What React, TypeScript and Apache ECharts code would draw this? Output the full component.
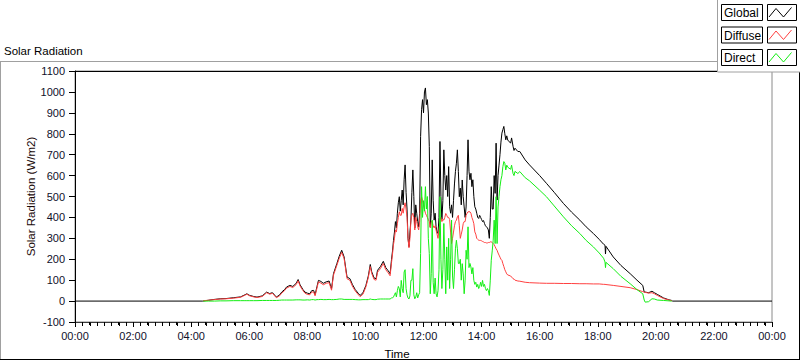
import React, { useEffect, useRef } from "react";
import * as echarts from "echarts";

// time of day in minutes since midnight
const times = [
  0, 264, 265, 276, 288, 300, 312, 327, 342, 351,
  355, 360, 369, 376, 387, 396, 402, 408, 416, 423,
  427, 433, 437, 444, 450, 457, 461, 465, 471, 475,
  480, 485, 489, 493, 496, 500, 503, 508, 513, 519,
  525, 530, 534, 541, 546, 551, 556, 562, 568, 573,
  579, 586, 589, 595, 601, 606, 610, 613, 618, 622,
  625, 631, 637, 642, 647, 651,
  654, 656, 658, 660, 662, 664, 666, 668, 670, 672,
  674, 676, 678, 680, 682, 684, 686, 688, 690, 692,
  694, 696, 698, 700, 702, 704, 706, 708, 710, 712,
  714, 716, 718, 720, 722, 724, 726, 728, 730, 732,
  734, 736, 738, 740, 742, 744, 746, 748, 750, 752,
  754, 756, 758, 760, 762, 764, 766, 768, 770, 772,
  774, 776, 778, 780, 782, 784, 786, 788, 790, 792,
  794, 796, 798, 800, 802, 804, 806, 808, 810, 812,
  814, 816, 818, 820, 822, 824, 826, 828, 830, 832,
  834, 836, 838, 840, 842, 844, 846, 848, 850, 852,
  854, 856, 858, 860, 862, 864, 866, 868, 870, 872,
  874, 876, 878, 880, 882, 884, 886, 888, 890, 892, 894,
  900, 902, 905, 907, 909, 915, 919, 930, 939, 960,
  974, 990, 1009, 1026, 1043, 1056, 1071, 1083, 1092, 1095,
  1096, 1097, 1112, 1128, 1147, 1161, 1173, 1176, 1178, 1185,
  1192, 1197, 1203, 1216, 1227, 1233, 1234, 1440,
];

const globalValues = [
  0, 0, 2, 4, 8, 11, 12, 16, 20, 30,
  35, 28, 22, 19, 25, 43, 36, 40, 19, 30,
  43, 55, 67, 75, 70, 85, 103, 78, 55, 43,
  38, 35, 50, 51, 30, 70, 99, 94, 85, 92,
  96, 59, 131, 179, 215, 243, 211, 115, 107, 80,
  55, 35, 27, 40, 75, 120, 175, 140, 110, 107,
  147, 165, 190, 160, 145, 131,
  200, 240, 290, 330, 380, 350, 420, 470, 499, 430,
  480, 531, 460, 580, 651, 520, 440, 300, 260, 330,
  387, 520, 627, 500, 350, 460, 420, 380, 355, 420,
  787, 915, 963, 900, 1000, 1019, 939, 963, 899, 739,
  355, 420, 675, 480, 387, 420, 355, 330, 323, 400,
  763, 500, 390, 480, 723, 600, 531, 600, 500, 643,
  451, 420, 460, 400, 480, 560, 620, 659, 723, 620,
  499, 540, 460, 579, 500, 450, 400, 450, 600, 771,
  620, 580, 611, 547, 580, 500, 451, 440, 420, 400,
  395, 410, 400, 390, 380, 385, 371, 360, 355, 350,
  340, 300, 400, 547, 440, 440, 600, 515, 755, 483,
  600, 650, 700, 760, 803, 820, 835, 800, 771, 790, 770,
  755, 780, 740, 720, 731, 715, 715, 675, 651, 600,
  563, 520, 467, 425, 387, 355, 323, 295, 272, 267,
  225, 262, 211, 170, 131, 100, 75, 43, 43, 40,
  47, 40, 32, 15, 6, 3, 0, 0,
];

const diffuseValues = [
  null, null, 2, 4, 7, 10, 11, 14, 18, 28,
  33, 26, 20, 17, 22, 40, 33, 37, 16, 26,
  38, 50, 62, 70, 65, 79, 97, 72, 50, 38,
  32, 30, 43, 44, 25, 63, 92, 86, 78, 85,
  88, 52, 124, 171, 205, 233, 203, 107, 99, 72,
  48, 29, 21, 33, 68, 113, 165, 132, 103, 100,
  138, 155, 180, 150, 135, 121,
  185, 225, 270, 300, 340, 330, 370, 400, 427, 410,
  410, 443, 420, 450, 470, 440, 400, 300, 255, 300,
  387, 411, 420, 400, 340, 400, 380, 355, 340, 380,
  483, 499, 480, 460, 440, 420, 410, 400, 390, 380,
  350, 380, 380, 360, 350, 360, 339, 320, 300, 340,
  390, 400, 380, 390, 387, 400, 419, 410, 400, 400,
  390, 330, 275, 300, 330, 360, 380, 387, 403, 410,
  360, 300, 320, 340, 370, 380, 380, 410, 420, 427,
  427, 427, 420, 400, 387, 370, 331, 320, 300, 295,
  291, 290, 290, 288, 285, 283, 280, 280, 278, 278,
  280, 280, 283, 283, 280, 275, 270, 260, 250, 243,
  230, 220, 210, 200, 195, 179, 165, 150, 140, 130, 125,
  120, 115, 107, 105, 100, 96, 95, 90, 88, 86,
  85, 85, 84, 84, 83, 83, 82, 82, 80, 80,
  80, 79, 75, 70, 64, 55, 45, 43, 42, 38,
  40, 35, 27, 12, 5, 2, null, null,
];

const directValues = [
  null, null, 0, 0, 0, 1, 1, 2, 2, 2,
  2, 2, 2, 2, 3, 3, 3, 3, 3, 4,
  5, 5, 5, 5, 5, 6, 6, 6, 5, 5,
  6, 5, 7, 7, 5, 7, 7, 8, 7, 7,
  8, 7, 7, 8, 10, 10, 8, 8, 8, 8,
  7, 6, 6, 7, 7, 7, 10, 8, 7, 7,
  9, 10, 10, 10, 10, 10,
  15, 15, 20, 30, 40, 20, 50, 70, 60, 20,
  99, 60, 40, 139, 150, 60, 30, 15, 10, 25,
  99, 100, 155, 30, 11, 19, 40, 15, 30, 40,
  227, 547, 400, 480, 430, 547, 440, 500, 300, 227,
  35, 131, 387, 90, 35, 110, 35, 20, 50, 150,
  499, 200, 60, 150, 371, 200, 35, 259, 100, 300,
  60, 200, 387, 120, 60, 150, 250, 291, 250, 180,
  179, 200, 100, 179, 130, 35, 100, 243, 200, 355,
  160, 180, 163, 130, 160, 99, 80, 90, 67, 80,
  60, 70, 90, 70, 99, 70, 80, 60, 50, 60,
  50, 27, 100, 195, 240, 291, 387, 275, 499, 275,
  450, 500, 547, 580, 600, 643, 667, 659, 627, 650, 640,
  630, 650, 610, 600, 620, 610, 619, 590, 575, 530,
  499, 455, 403, 360, 323, 290, 259, 230, 205, 187,
  160, 185, 155, 118, 83, 55, 35, 5, -5, -3,
  11, 10, 5, 3, 1, 0, null, null,
];

const seriesNames = ["Global", "Diffuse", "Direct"];
const seriesColors = ["#000000", "#ff4040", "#14ee14"];
const seriesValues = [globalValues, diffuseValues, directValues];

const xMin = 0;
const xMax = 1440;
const xStep = 120;
const xMinorStep = 15;
const yMin = -100;
const yMax = 1100;
const yStep = 100;

function pairs(vals: (number | null)[]) {
  const out: [number, number][] = [];
  const n = Math.min(times.length, vals.length);
  for (let i = 0; i < n; i++) {
    const v = vals[i];
    if (v !== null && v !== undefined) out.push([times[i], v]);
  }
  return out;
}

function fmtTime(v: number) {
  const h = Math.round(v / 60) % 24;
  return (h < 10 ? "0" : "") + h + ":00";
}

export default function App() {
  const ref = useRef<HTMLDivElement>(null);

  useEffect(() => {
    if (!ref.current) return;
    const chart = echarts.init(ref.current, null, { renderer: "svg" });
    const font = "'Liberation Sans', Arial, sans-serif";
    const gridLeft = 75;
    const gridRight = 772;
    const gridTop = 71;
    const gridBottom = 322;

    const legendItems: any[] = [];
    const entryTop = [4, 26.5, 49];
    seriesNames.forEach((name, i) => {
      const y0 = entryTop[i];
      legendItems.push({
        type: "rect",
        shape: { x: 721.5, y: y0 + 0.5, width: 41, height: 16 },
        style: { fill: "#ffffff", stroke: "#000000", lineWidth: 1 },
        z: 101,
      });
      legendItems.push({
        type: "text",
        x: 724,
        y: y0 + 9,
        style: {
          text: name,
          fill: "#000000",
          font: "12px " + font,
          align: "left",
          verticalAlign: "middle",
        },
        z: 102,
      });
      legendItems.push({
        type: "rect",
        shape: { x: 767.5, y: y0 + 0.5, width: 29, height: 16 },
        style: { fill: "#ffffff", stroke: "#000000", lineWidth: 1 },
        z: 101,
      });
      legendItems.push({
        type: "polyline",
        shape: {
          points: [
            [769, y0 + 13],
            [776, y0 + 4.5],
            [783.5, y0 + 13],
            [791.5, y0 + 3.5],
          ],
        },
        style: { stroke: seriesColors[i], lineWidth: 1, fill: "none" },
        z: 102,
      });
    });

    const lineSeries = seriesValues.map((vals, i) => ({
      name: seriesNames[i],
      type: "line",
      data: pairs(vals),
      showSymbol: false,
      symbol: "none",
      connectNulls: false,
      lineStyle: { color: seriesColors[i], width: 1 },
      itemStyle: { color: seriesColors[i] },
      z: 2 + i,
    }));

    const staticGraphics: any[] = [
      { type: "line", shape: { x1: 0, y1: 61.5, x2: 800, y2: 61.5 }, style: { stroke: "#a0a0a0", lineWidth: 1 }, z: 50 },
      { type: "line", shape: { x1: 0.5, y1: 61, x2: 0.5, y2: 360 }, style: { stroke: "#a0a0a0", lineWidth: 1 }, z: 50 },
      { type: "line", shape: { x1: 0, y1: 359.5, x2: 800, y2: 359.5 }, style: { stroke: "#000000", lineWidth: 1 }, z: 50 },
      { type: "line", shape: { x1: 799.5, y1: 61, x2: 799.5, y2: 360 }, style: { stroke: "#000000", lineWidth: 1 }, z: 50 },
      { type: "line", shape: { x1: gridLeft, y1: gridTop + 0.5, x2: gridRight, y2: gridTop + 0.5 }, style: { stroke: "#000000", lineWidth: 1 }, z: 50 },
      {
        type: "text",
        x: 4,
        y: 51,
        style: { text: "Solar Radiation", fill: "#000000", font: "11.5px " + font, align: "left", verticalAlign: "middle" },
        z: 50,
      },
      {
        type: "text",
        x: 31,
        y: (gridTop + gridBottom) / 2,
        rotation: Math.PI / 2,
        style: {
          text: "Solar Radiation (W/m2)",
          fill: "#1a0a0a",
          font: "11.5px " + font,
          align: "center",
          verticalAlign: "middle",
        },
        z: 50,
      },
      {
        type: "text",
        x: 397,
        y: 354,
        style: { text: "Time", fill: "#000000", font: "11.5px " + font, align: "center", verticalAlign: "middle" },
        z: 50,
      },
      {
        type: "rect",
        shape: { x: 717.5, y: -1, width: 84, height: 73 },
        style: { fill: "#ffffff", stroke: "#a0a0a0", lineWidth: 1 },
        z: 100,
      },
      ...legendItems,
    ];

    chart.setOption({
      animation: false,
      backgroundColor: "#ffffff",
      grid: {
        left: gridLeft,
        right: 800 - gridRight,
        top: gridTop,
        bottom: 361 - gridBottom,
        show: true,
        borderColor: "#8a8a8a",
        borderWidth: 1,
        backgroundColor: "#ffffff",
      },
      xAxis: {
        type: "value",
        min: xMin,
        max: xMax,
        interval: xStep,
        axisLine: { show: true, onZero: false, lineStyle: { color: "#3a3a3a", width: 1 } },
        axisTick: { show: true, length: 5, lineStyle: { color: "#000000" } },
        minorTick: { show: true, splitNumber: xStep / xMinorStep, length: 3, lineStyle: { color: "#000000", width: 1 } },
        splitLine: { show: false },
        axisLabel: {
          formatter: (v: number) => fmtTime(v),
          margin: 8,
          fontSize: 11,
          fontFamily: font,
          color: "#10102a",
          showMinLabel: true,
          showMaxLabel: true,
        },
      },
      yAxis: {
        type: "value",
        min: yMin,
        max: yMax,
        interval: yStep,
        axisLine: { show: true, lineStyle: { color: "#000000", width: 1 } },
        axisTick: { show: true, length: 6, lineStyle: { color: "#000000" } },
        splitLine: { show: false },
        axisLabel: {
          formatter: (v: number) => String(v),
          margin: 10,
          fontSize: 11,
          fontFamily: font,
          color: "#10102a",
        },
      },
      series: lineSeries,
    });

    // extra minor ticks every 15 minutes, placed through the axis scale
    const minorTicks: any[] = [];
    let yPix = gridBottom;
    try {
      const yb = chart.convertToPixel({ yAxisIndex: 0 }, yMin) as unknown as number;
      if (typeof yb === "number" && isFinite(yb)) yPix = yb;
    } catch (e) {
      /* keep default */
    }
    for (let t = xMin; t <= xMax; t += xMinorStep) {
      if (t % xStep === 0) continue;
      let px: number = gridLeft + ((t - xMin) / (xMax - xMin)) * (gridRight - gridLeft);
      try {
        const c = chart.convertToPixel({ xAxisIndex: 0 }, t) as unknown as number;
        if (typeof c === "number" && isFinite(c)) px = c;
      } catch (e) {
        /* keep linear fallback */
      }
      const x = Math.round(px) + 0.5;
      minorTicks.push({
        type: "line",
        shape: { x1: x, y1: yPix + 0.5, x2: x, y2: yPix + 4 },
        style: { stroke: "#000000", lineWidth: 1 },
        z: 60,
      });
    }

    chart.setOption({ graphic: [...staticGraphics, ...minorTicks] });

    return () => chart.dispose();
  }, []);

  return (
    <div
      ref={ref}
      style={{ position: "absolute", left: 0, top: 0, width: 800, height: 361 }}
    />
  );
}
